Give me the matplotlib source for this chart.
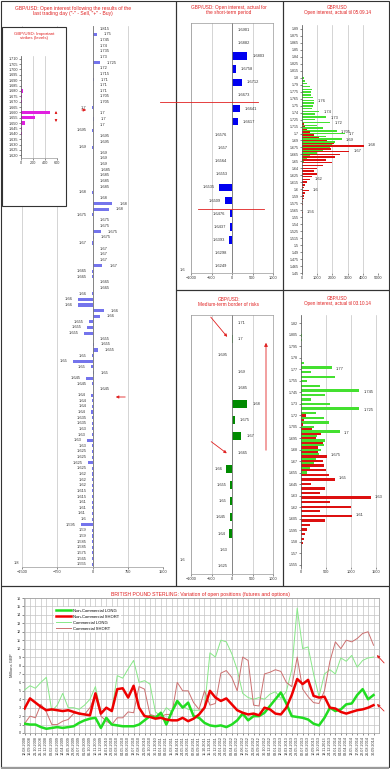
import matplotlib.pyplot as plt
from matplotlib.patches import Rectangle, FancyArrowPatch
from matplotlib.lines import Line2D
import numpy as np
import pandas as pd

plt.rcParams['font.family'] = ['Liberation Sans', 'DejaVu Sans']

W, H = 390, 769
RED = '#e02020'
GRID = '#c4c4c4'
LBL = '#333333'

# ---- left: open interest after last trading day ----
lm_strikes = ['1.815', '1.75', '1.745', '1.74', '1.735', '1.73', '1.725', '1.72', '1.715', '1.71',
              '1.71', '1.71', '1.705', '1.705', '1.7', '1.7', '1.7', '1.7', '1.695', '1.695',
              '1.695', '1.69', '1.69', '1.69', '1.69', '1.685', '1.685', '1.685', '1.685', '1.68',
              '1.68', '1.68', '1.68', '1.675', '1.675', '1.675', '1.675', '1.675', '1.67', '1.67',
              '1.67', '1.67', '1.67', '1.665', '1.665', '1.665', '1.665', '1.66', '1.66', '1.66',
              '1.66', '1.66', '1.655', '1.655', '1.655', '1.655', '1.655', '1.655', '1.65', '1.65',
              '1.65', '1.65', '1.645', '1.645', '1.645', '1.64', '1.64', '1.64', '1.64', '1.635',
              '1.635', '1.63', '1.63', '1.63', '1.63', '1.625', '1.625', '1.625', '1.625', '1.62',
              '1.62', '1.62', '1.615', '1.615', '1.61', '1.61', '1.61', '1.6', '1.595', '1.59',
              '1.59', '1.585', '1.585', '1.575', '1.565', '1.555']
lm_oi = [5, 90, 5, 5, 5, 5, 155, 5, 5, 30,
         5, 5, 5, 5, -5, 5, 30, 5, -5, 5,
         5, -5, 5, 5, 5, 20, 5, 5, 5, -5,
         5, 425, 350, -5, 5, 5, 175, 30, -5, 5,
         5, 5, 210, -5, -5, 5, 5, -5, -315, -300,
         240, 155, -70, -120, -175, 5, 30, 120, -5, -425,
         -25, 30, -140, -5, 5, -25, -5, -5, -25, -5,
         -5, -5, -20, -120, -5, -5, -5, -90, -5, -5,
         -5, -5, -5, -5, -5, -5, -20, -20, -245, -20,
         -5, -5, -5, -5, -5, -5]

# ---- inset: important strikes ----
in_strikes = ['1.710', '1.705', '1.700', '1.695', '1.690', '1.685', '1.680', '1.675', '1.670', '1.665',
              '1.660', '1.655', '1.650', '1.645', '1.640', '1.635', '1.630', '1.625', '1.620']
in_vals = [0, 0, 0, 0, 0, 0, 25, 20, 20, 0, 480, 230, 70, 20, 10, 0, 0, 0, 0]

# ---- middle top: short-term ----
mt_labels = ['1.6901', '1.6882', '1.6803', '1.6758', '1.6712', '1.6673', '1.6641', '1.6617', '1.6576', '1.657',
             '1.6564', '1.6553', '1.6535', '1.6509', '1.6476', '1.6437', '1.6393', '1.6298', '1.6249']
mt_vals = [10, 10, 375, 90, 250, 10, 190, 140, -10, -10, -10, -10, -310, -165, -60, -55, -65, -10, -10]

# ---- middle bottom: medium-term border of risks ----
mb_labels = ['1.71', '1.7', '1.695', '1.69', '1.685', '1.68', '1.675', '1.67', '1.665', '1.66',
             '1.655', '1.65', '1.645', '1.64', '1.63', '1.625']
mb_vals = [10, 25, -10, 10, 10, 375, 70, 230, 10, -140, -40, -40, -40, -65, -10, -10]

# ---- right top: open interest til 05.09.14 ----
rt_ticks = ['1.89', '1.875', '1.865', '1.85', '1.84', '1.825', '1.815', '1.8', '1.79', '1.775',
            '1.765', '1.75', '1.74', '1.725', '1.715', '1.7', '1.69', '1.675', '1.665', '1.65',
            '1.64', '1.625', '1.615', '1.6', '1.59', '1.575', '1.565', '1.55', '1.54', '1.525',
            '1.515', '1.5', '1.49', '1.475', '1.465', '1.45']
rt_call_px = [1.800, 1.795, 1.790, 1.785, 1.780, 1.775, 1.770, 1.765, 1.760, 1.755, 1.750, 1.745, 1.740,
              1.735, 1.730, 1.725, 1.720, 1.715, 1.710, 1.705, 1.700, 1.695, 1.690, 1.685, 1.680, 1.675,
              1.670, 1.665, 1.660, 1.655, 1.650]
rt_call = [100, 220, 300, 540, 650, 560, 560, 720, 760, 760, 720, 650, 1150,
           860, 1600, 860, 1850, 980, 1400, 2300, 2800, 1600, 2600, 2150, 1950, 1850,
           1400, 980, 540, 320, 100]
rt_put_px = [1.720, 1.715, 1.710, 1.705, 1.700, 1.695, 1.690, 1.685, 1.680, 1.675, 1.670, 1.665, 1.660,
             1.655, 1.650, 1.645, 1.640, 1.635, 1.630, 1.625, 1.620, 1.615, 1.610, 1.605, 1.600, 1.595,
             1.590, 1.585, 1.580, 1.575, 1.570, 1.565, 1.560]
rt_put = [100, 220, 300, 540, 760, 1100, 1650, 2100, 4050, 1900, 3100, 2500, 2150,
          1600, 1950, 1400, 1000, 760, 980, 650, 540, 320, 220, 100, 430, 220,
          100, 100, 60, 40, 0, 0, 40]
rt_call_lab = {1.760: '1.76', 1.740: '1.74', 1.730: '1.73', 1.720: '1.72', 1.705: '1.705', 1.700: '1.7', 1.690: '1.69'}
rt_put_lab = {1.680: '1.68', 1.670: '1.67', 1.620: '1.62', 1.600: '1.6', 1.560: '1.56'}

# ---- right bottom: open interest til 03.10.14 ----
rb_ticks = ['1.82', '1.805', '1.795', '1.78', '1.77', '1.755', '1.745', '1.73', '1.72', '1.705', '1.695',
            '1.68', '1.67', '1.655', '1.645', '1.63', '1.62', '1.605', '1.595', '1.58', '1.57', '1.555']
rb_call_px = [1.805, 1.800, 1.775, 1.770, 1.765, 1.760, 1.755, 1.750, 1.745, 1.740, 1.735, 1.730, 1.725,
              1.720, 1.715, 1.710, 1.705, 1.700, 1.695, 1.690, 1.685, 1.680, 1.675, 1.670, 1.665, 1.660, 1.655]
rb_call = [10, 10, 60, 615, 190, 680, 120, 380, 1165, 480, 200, 580, 1165,
           290, 450, 550, 250, 780, 320, 480, 450, 400, 350, 300, 250, 180, 120]
rb_put_px = [1.720, 1.715, 1.710, 1.705, 1.700, 1.695, 1.690, 1.685, 1.680, 1.675, 1.670, 1.665, 1.660,
             1.655, 1.650, 1.645, 1.640, 1.635, 1.630, 1.625, 1.620, 1.615, 1.610, 1.605, 1.600, 1.595,
             1.590, 1.585, 1.580]
rb_put = [100, 50, 40, 220, 400, 300, 440, 330, 330, 520, 440, 460, 500,
          550, 680, 190, 480, 370, 1400, 580, 1000, 380, 1010, 480, 170, 110,
          80, 50, 40]
rb_call_lab = {1.770: '1.77', 1.745: '1.745', 1.725: '1.725', 1.700: '1.7'}
rb_put_lab = {1.675: '1.675', 1.650: '1.65', 1.630: '1.63', 1.610: '1.61'}

# ---- bottom: CFTC positions, every 5th weekly report ----
dates = pd.date_range('2008-08-12', periods=65, freq='35D')
nc_long = [1.1, 1.0, 1.0, 0.7, 0.5, 0.6, 0.7, 0.6, 0.7, 0.8, 1.2, 1.5, 1.7, 1.8, 0.6, 1.8, 1.0, 0.9, 0.8, 0.8,
           0.8, 1.0, 1.5, 2.0, 1.8, 2.4, 1.0, 2.5, 3.8, 3.0, 3.6, 2.0, 1.8, 1.2, 0.9, 0.8, 0.9, 0.7, 1.0, 1.5,
           2.3, 1.5, 2.0, 2.0, 2.4, 3.2, 4.0, 4.8, 3.5, 2.0, 1.9, 1.8, 1.6, 1.1, 0.9, 1.8, 3.0, 2.6, 2.8, 3.4,
           3.5, 4.5, 5.2, 4.0, 4.5]
nc_short = [2.9, 4.1, 3.6, 3.1, 2.7, 2.8, 2.7, 2.6, 2.7, 2.5, 2.3, 2.2, 2.1, 4.7, 2.3, 3.0, 2.6, 5.2, 5.3, 4.2,
            5.6, 3.0, 2.0, 1.9, 1.7, 1.8, 1.6, 1.5, 1.5, 1.8, 1.4, 1.7, 2.2, 3.0, 5.0, 4.2, 3.8, 4.1, 3.4, 2.7,
            2.4, 2.2, 2.3, 2.1, 3.0, 2.8, 2.3, 2.2, 3.0, 4.5, 6.4, 5.8, 6.3, 4.4, 4.2, 4.3, 3.0, 2.9, 2.5, 2.3,
            2.5, 2.7, 2.8, 3.0, 3.3]
c_long = [5.1, 5.6, 5.3, 6.0, 6.6, 2.6, 3.3, 4.7, 3.0, 3.0, 2.8, 3.3, 4.0, 5.5, 2.4, 3.0, 2.6, 6.8, 6.5, 7.6,
          8.6, 6.0, 6.2, 5.8, 2.5, 2.0, 3.0, 2.5, 3.5, 3.2, 2.8, 2.7, 2.7, 2.9, 9.5, 9.0, 11.0, 10.8, 9.4, 7.5,
          4.7, 4.2, 4.0, 4.2, 4.0, 4.6, 4.9, 4.1, 4.9, 7.5, 14.8, 10.0, 10.2, 7.0, 4.3, 7.0, 7.5, 7.0, 8.9, 8.5,
          9.2, 7.8, 8.6, 8.9, 9.0]
c_short = [1.1, 2.0, 1.8, 3.4, 2.5, 1.0, 1.0, 1.4, 1.6, 2.3, 2.4, 2.2, 3.0, 4.5, 2.0, 1.4, 1.0, 1.8, 1.8, 2.5,
           2.4, 5.5, 5.2, 2.2, 2.0, 2.0, 2.2, 2.2, 6.0, 5.0, 5.0, 3.6, 2.8, 5.0, 3.3, 3.5, 7.1, 7.4, 6.6, 5.0,
           9.0, 8.6, 3.3, 3.2, 7.0, 7.2, 7.5, 7.3, 6.0, 5.5, 9.0, 5.2, 4.3, 3.6, 3.5, 5.0, 8.5, 10.8, 10.0, 11.0,
           10.8, 11.2, 11.8, 12.0, 10.4]

fig = plt.figure(figsize=(W / 100, H / 100), dpi=100)


def px_axes(x0, y0, x1, y1):
    return fig.add_axes([x0 / W, 1 - y1 / H, (x1 - x0) / W, (y1 - y0) / H])


def ftext(x, y, s, **kw):
    fig.text(x / W, 1 - y / H, s, **kw)


def fline(xs, ys, **kw):
    fig.add_artist(Line2D([x / W for x in xs], [1 - y / H for y in ys], transform=fig.transFigure, **kw))


def farrow(x0, y0, x1, y1, ms=4, z=5):
    fig.add_artist(FancyArrowPatch((x0 / W, 1 - y0 / H), (x1 / W, 1 - y1 / H), transform=fig.transFigure,
                                   arrowstyle='-|>', mutation_scale=ms, color=RED, lw=0.6, zorder=z))


def frame(x0, y0, x1, y1, lw=0.8, ec='#333333'):
    fig.add_artist(Rectangle((x0 / W, 1 - y1 / H), (x1 - x0) / W, (y1 - y0) / H, transform=fig.transFigure,
                             fill=False, ec=ec, lw=lw))


def label_bars(ax, ys, vals, labels, fs, gap_r=4.0, gap_l=3.0):
    for yi, v, s in zip(ys, vals, labels):
        if v >= 0:
            ax.annotate(s, (v, yi), xytext=(gap_r, 0), textcoords='offset points', ha='left', va='center',
                        fontsize=fs, color=LBL)
        else:
            ax.annotate(s, (v, yi), xytext=(-gap_l, 0), textcoords='offset points', ha='right', va='center',
                        fontsize=fs, color=LBL)


def style_hbar(ax, xticks, fs=2.8, box=True):
    ax.set_xticks(xticks)
    ax.grid(axis='x', color=GRID, lw=0.5)
    ax.set_axisbelow(True)
    ax.tick_params(labelsize=fs, length=1.2, width=0.4, pad=1, colors=LBL)
    for sp in ax.spines.values():
        sp.set_color('#999999')
        sp.set_linewidth(0.5)
        sp.set_visible(box)


# panel frames
frame(1, 1, 176, 586)
frame(176, 1, 283, 290)
frame(283, 1, 389, 290)
frame(176, 290, 283, 586)
frame(283, 290, 389, 586)
frame(1, 586, 389, 767)
fline([2, 388], [767.5, 767.5], color='#9a9a9a', lw=1.5)

# ---- left main chart ----
ax = px_axes(22, 26, 163, 567)
yy = np.arange(len(lm_oi))
ax.barh(yy, lm_oi, height=0.55, color='#7474ec')
ax.set_ylim(len(yy) - 0.5, -0.5)
ax.set_xlim(-1500, 1500)
ax.set_yticks([])
style_hbar(ax, [-1500, -750, 0, 750, 1500], box=False)
ax.spines['bottom'].set_visible(True)
ax.axvline(0, color='#777777', lw=0.6)
label_bars(ax, yy, lm_oi, lm_strikes, 2.9, gap_r=5.0, gap_l=4.0)
ftext(73, 6, 'GBP/USD: Open interest following the results of the\nlast trading day ("-" - Sell, "+" - Buy)',
      fontsize=3.6, color=RED, ha='center', va='top', linespacing=1.0)
ftext(16, 563, '1.8', fontsize=2.8, color=LBL, ha='center', va='center')
farrow(79, 110, 89, 110)
farrow(128, 397, 113, 397)

# ---- inset: important strikes ----
fig.add_artist(Rectangle((2 / W, 1 - 206 / H), 64 / W, 179 / H, transform=fig.transFigure,
                         fc='white', ec='#333333', lw=0.8, zorder=3))
ai = px_axes(21, 56, 57, 158)
ai.set_zorder(4)
iy = np.arange(len(in_vals))
ai.barh(iy, in_vals, height=0.6, color='#e020e0')
ai.set_ylim(len(iy) - 0.5, -0.5)
ai.set_xlim(0, 600)
ai.set_yticks(iy)
ai.set_yticklabels(in_strikes)
style_hbar(ai, [0, 200, 400, 600], fs=2.7)
ai.spines['top'].set_visible(False)
ai.spines['right'].set_visible(False)
ai.spines['left'].set_color('#555555')
ftext(34, 32, 'GBP/USD: Important\nstrikes (levels)', fontsize=3.2, color=RED, ha='center', va='top',
      linespacing=1.0, zorder=5)
farrow(56, 116, 56, 111, ms=3, z=6)
farrow(56, 117, 56, 122, ms=3, z=6)

# ---- middle top ----
ax = px_axes(191, 23, 273, 273)
my = np.arange(len(mt_vals))
ax.barh(my, mt_vals, height=0.55, color='#0000f0')
ax.set_ylim(len(my) - 0.5, -0.5)
ax.set_xlim(-1000, 1000)
ax.set_yticks([])
style_hbar(ax, [-1000, -500, 0, 500, 1000])
ax.axvline(0, color='#777777', lw=0.6)
label_bars(ax, my, mt_vals, mt_labels, 2.9, gap_r=3.5, gap_l=3.0)
ftext(229, 5, 'GBP/USD: Open interest, actual for\nthe short-term period', fontsize=3.4, color=RED,
      ha='center', va='top', linespacing=1.0)
ftext(182, 270, '1.6', fontsize=2.8, color=LBL, ha='center', va='center')
fline([160, 258], [102, 102], color=RED, lw=0.6)
fline([198, 264], [209, 209], color=RED, lw=0.6)

# ---- middle bottom ----
ax = px_axes(191, 315, 273, 574)
by = np.arange(len(mb_vals))
ax.barh(by, mb_vals, height=0.5, color='#008a00')
ax.set_ylim(len(by) - 0.5, -0.5)
ax.set_xlim(-1000, 1000)
ax.set_yticks([])
style_hbar(ax, [-1000, -500, 0, 500, 1000])
ax.axvline(0, color='#777777', lw=0.6)
label_bars(ax, by, mb_vals, mb_labels, 2.9, gap_r=3.5, gap_l=3.0)
ftext(229, 297, 'GBP/USD:\nMedium-term border of risks', fontsize=3.4, color=RED,
      ha='center', va='top', linespacing=1.0)
ftext(182, 560, '1.6', fontsize=2.8, color=LBL, ha='center', va='center')
farrow(209, 315, 229, 339)
farrow(209, 440, 229, 455)
farrow(266, 453, 266, 340, ms=5)


def oi_panel(ax, cpx, cv, ppx, pv, clab, plab, xmax, xt):
    cpx = np.array(cpx)
    ppx = np.array(ppx)
    ax.barh(cpx + 0.0012, cv, height=0.0026, color='#44e030', zorder=2)
    ax.barh(ppx - 0.0012, pv, height=0.0026, color='#dd1010', zorder=2)
    for p, v in zip(cpx, cv):
        if round(p, 3) in clab:
            ax.annotate(clab[round(p, 3)], (v, p), xytext=(3, 0), textcoords='offset points',
                        ha='left', va='center', fontsize=2.9, color=LBL)
    for p, v in zip(ppx, pv):
        if round(p, 3) in plab:
            ax.annotate(plab[round(p, 3)], (v, p), xytext=(3, 0), textcoords='offset points',
                        ha='left', va='center', fontsize=2.9, color=LBL)
    ax.set_xlim(0, xmax)
    style_hbar(ax, xt)
    ax.spines['top'].set_visible(False)
    ax.spines['right'].set_visible(False)
    ax.spines['bottom'].set_visible(False)
    ax.spines['left'].set_color('#555555')


# ---- right top ----
ax = px_axes(302, 25, 378, 273)
oi_panel(ax, rt_call_px, rt_call, rt_put_px, rt_put, rt_call_lab, rt_put_lab, 5000,
         [0, 1000, 2000, 3000, 4000, 5000])
ax.set_ylim(1.45, 1.897)
ax.set_yticks(np.linspace(1.89, 1.45, len(rt_ticks)))
ax.set_yticklabels(rt_ticks)
ax.tick_params(axis='y', labelsize=2.6)
ftext(337, 5, 'GBP/USD\nOpen interest, actual til 05.09.14', fontsize=3.3, color=RED,
      ha='center', va='top', linespacing=1.05)

# ---- right bottom ----
ax = px_axes(301, 315, 380, 567)
oi_panel(ax, rb_call_px, rb_call, rb_put_px, rb_put, rb_call_lab, rb_put_lab, 1580,
         [0, 500, 1000, 1500])
ax.set_ylim(1.5528, 1.8288)
ax.set_yticks(np.linspace(1.82, 1.555, len(rb_ticks)))
ax.set_yticklabels(rb_ticks)
ax.tick_params(axis='y', labelsize=2.6)
ftext(337, 296, 'GBP/USD\nOpen interest, actual til 03.10.14', fontsize=3.3, color=RED,
      ha='center', va='top', linespacing=1.05)

# ---- bottom: positions ----
ax = px_axes(24, 598, 379, 733)
xs = np.arange(len(dates)) * 5
ax.plot(xs, c_long, color='#88e888', lw=0.7, label='Commercial LONG', zorder=3)
ax.plot(xs, c_short, color='#cc7070', lw=0.7, label='Commercial SHORT', zorder=3)
ax.plot(xs, nc_long, color='#22dd22', lw=1.8, label='Non-Commercial LONG', zorder=4)
ax.plot(xs, nc_short, color='#ee0000', lw=1.8, label='Non-Commercial SHORT', zorder=4)
ax.set_xlim(-0.5, 325)
ax.set_ylim(0, 16)
ax.set_yticks(range(17))
ax.set_xticks(xs)
ax.set_xticklabels([d.strftime('%d.%m.%Y') for d in dates], rotation=90)
ax.grid(color=GRID, lw=0.5)
ax.set_axisbelow(True)
ax.tick_params(labelsize=2.7, length=1.2, width=0.4, pad=1, colors=LBL)
for sp in ax.spines.values():
    sp.set_color('#999999')
    sp.set_linewidth(0.5)
ax.set_ylabel('Millions GBP', fontsize=3.0, color=LBL, labelpad=2)
h, l = ax.get_legend_handles_labels()
order = [2, 3, 0, 1]
leg = ax.legend([h[i] for i in order], [l[i] for i in order], loc='upper left',
                bbox_to_anchor=(0.08, 0.95), fontsize=3.0, frameon=True, handlelength=3.5,
                labelspacing=0.5, borderpad=0.4, handletextpad=0.6)
leg.get_frame().set_edgecolor('none')
leg.get_frame().set_facecolor('white')
leg.get_frame().set_alpha(1)
ftext(200, 592, 'BRITISH POUND STERLING: Variation of open positions (futures and options)',
      fontsize=3.7, color=RED, ha='center', va='top')
farrow(386, 665, 375, 653)
farrow(386, 713, 375, 702)

fig.savefig('out.png', dpi=100)
